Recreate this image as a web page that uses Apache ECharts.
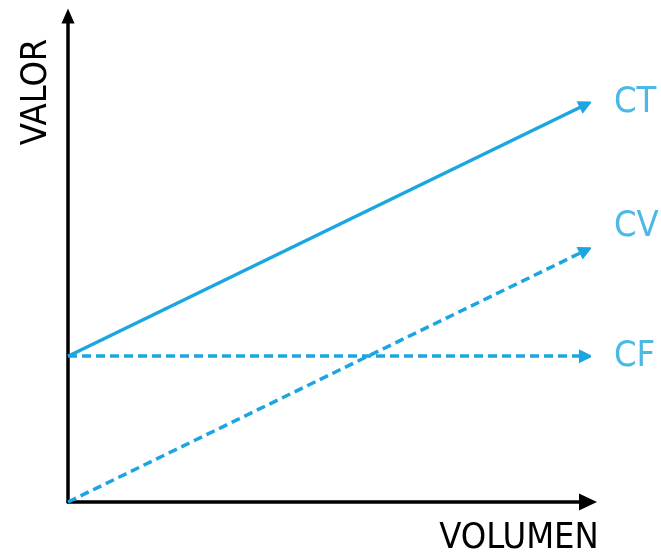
<!DOCTYPE html>
<html>
<head>
<meta charset="utf-8">
<script src="https://cdn.jsdelivr.net/npm/echarts@6/dist/echarts.min.js"></script>
<style>
  html, body { margin: 0; padding: 0; background: #fff; }
  #chart { width: 661px; height: 555px; }
</style>
</head>
<body>
<div id="chart"></div>
<script>
// Cost-volume relationship: fixed, variable and total cost
const volumen = [0, 99.6];
const costoFijo = [30, 30];          // CF
const costoVariable = [0, 51.8];     // CV
const costoTotal = [30, 81.8];       // CT
const etiquetas = ['CT', 'CV', 'CF'];

const BLUE = '#1ca6e1';
const LABEL_BLUE = '#1ea6e0';
const FONT = '"DejaVu Sans Condensed", "Liberation Sans Narrow", "DejaVu Sans", sans-serif';

function segment(values) {
  return [[volumen[0], values[0]], [volumen[1], values[1]]];
}

function costLine(name, values, dashed) {
  return {
    type: 'lines',
    name: name,
    coordinateSystem: 'cartesian2d',
    polyline: false,
    symbol: ['none', 'triangle'],
    symbolSize: [15, 14],
    lineStyle: {
      color: BLUE,
      width: 3.5,
      opacity: 1,
      curveness: 0,
      type: dashed ? [9, 5] : 'solid'
    },
    silent: true,
    animation: false,
    data: [{ coords: segment(values) }]
  };
}

// Curve names placed just right of each line end
function endLabel(name, values, dy) {
  return {
    type: 'scatter',
    symbolSize: 0,
    silent: true,
    label: {
      show: true,
      position: 'right',
      distance: 28,
      offset: [0, dy],
      formatter: name,
      color: LABEL_BLUE,
      fontFamily: FONT,
      fontSize: 36
    },
    data: [[volumen[1], values[1]]]
  };
}

function axisLine(size) {
  return {
    show: true,
    onZero: false,
    symbol: ['none', 'triangle'],
    symbolSize: size,
    lineStyle: { color: '#000', width: 3.5 }
  };
}

const chart = echarts.init(document.getElementById('chart'), null, { renderer: 'canvas' });

chart.setOption({
  backgroundColor: '#ffffff',
  animation: false,
  grid: { left: 68, right: 73, top: 16, bottom: 53 },
  xAxis: {
    type: 'value',
    min: 0,
    max: 100,
    axisLine: axisLine([17, 18]),
    axisTick: { show: false },
    axisLabel: { show: false },
    splitLine: { show: false }
  },
  yAxis: {
    type: 'value',
    min: 0,
    max: 100,
    axisLine: axisLine([13, 15]),
    axisTick: { show: false },
    axisLabel: { show: false },
    splitLine: { show: false }
  },
  graphic: [
    {
      type: 'text',
      x: 37,
      y: 92,
      rotation: Math.PI / 2,
      style: {
        text: 'VALOR',
        fill: '#000',
        font: '36px ' + FONT,
        align: 'center',
        verticalAlign: 'middle'
      }
    },
    {
      type: 'text',
      x: 519,
      y: 539,
      style: {
        text: 'VOLUMEN',
        fill: '#000',
        font: '36px ' + FONT,
        align: 'center',
        verticalAlign: 'middle'
      }
    }
  ],
  series: [
    costLine(etiquetas[0], costoTotal, false),
    costLine(etiquetas[1], costoVariable, true),
    costLine(etiquetas[2], costoFijo, true),
    endLabel(etiquetas[0], costoTotal, -2),
    endLabel(etiquetas[1], costoVariable, -24),
    endLabel(etiquetas[2], costoFijo, 0)
  ]
});
</script>
</body>
</html>
